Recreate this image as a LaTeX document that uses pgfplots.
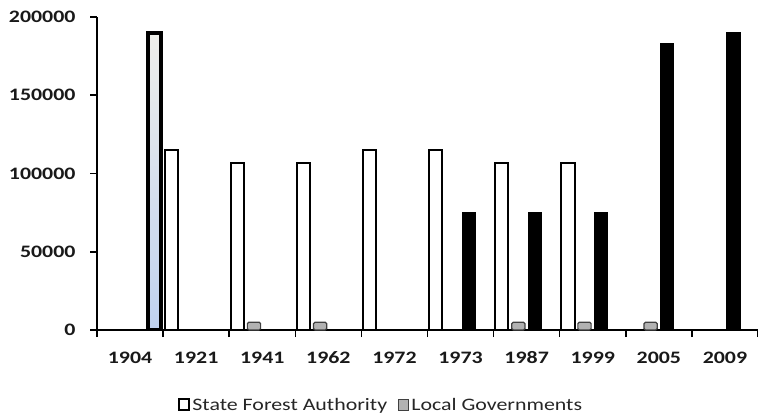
\documentclass[border=0pt]{standalone}
\usepackage{fontspec}
\setmainfont{Carlito}[FakeStretch=1.25]
\usepackage{pgfplots}
\pgfplotsset{compat=1.18}
\definecolor{lblue}{HTML}{C0D2F0}
\definecolor{ltop}{HTML}{EEEEEA}
\begin{document}
\begin{tikzpicture}[x=1bp,y=1bp]
\path[use as bounding box] (0,0) rectangle (758,416);
\begin{axis}[
  at={(97bp,86bp)}, anchor=south west,
  scale only axis, width=661bp, height=313bp,
  xmin=-0.5, xmax=9.5, ymin=0, ymax=200000,
  axis x line*=bottom, axis y line*=left,
  axis line style={line width=1.5bp, black},
  xtick={0,...,9},
  xticklabels={1904,1921,1941,1962,1972,1973,1987,1999,2005,2009},
  minor xtick={-0.5,0.5,...,9.5},
  major x tick style={draw=none},
  ytick={0,50000,...,200000},
  tick align=outside,
  major tick length=7bp, minor tick length=7bp,
  tick style={line width=1.5bp, black},
  scaled y ticks=false,
  /pgf/number format/assume math mode=true,
  /pgf/number format/fixed,
  /pgf/number format/1000 sep={},
  ticklabel style={font=\fontsize{17.5bp}{17.5bp}\selectfont\bfseries, text=black!90},
  yticklabel style={xshift=-11bp},
  xticklabel style={yshift=-11bp},
  legend style={at={(0.43,-0.24)}, anchor=center, draw=none, fill=none,
    font=\fontsize{17.5bp}{17.5bp}\selectfont, text=black!85,
    legend columns=2,
    /tikz/every even column/.append style={column sep=9bp}},
  legend cell align=left,
  legend image code/.code={\draw[#1, sharp corners] (0bp,-5bp) rectangle (10bp,6bp);},
]
\addplot[ybar, bar width=0.2, bar shift=-0.375, draw=black, fill=white, line width=2bp]
  coordinates {(1,115000)(2,107000)(3,107000)(4,115000)(5,115000)(6,107000)(7,107000)};
\addlegendentry{State Forest Authority}
\addplot[ybar, bar width=0.2, bar shift=-0.125, draw=black!75, fill=black!30, line width=1.2bp, rounded corners=1.5bp]
  coordinates {(2,5000)(3,5000)(6,5000)(7,5000)(8,5000)};
\addlegendentry{Local Governments}
\addplot[ybar, bar width=0.2, bar shift=0.125, draw=black, fill=black, line width=0.5bp, forget plot]
  coordinates {(5,75000)(6,75000)(7,75000)(8,183000)(9,190000)};
\addplot[ybar, bar width=0.2, bar shift=0.375, draw=black, top color=ltop, bottom color=lblue, line width=4bp, forget plot]
  coordinates {(0,190000)};
\end{axis}
\end{tikzpicture}
\end{document}
